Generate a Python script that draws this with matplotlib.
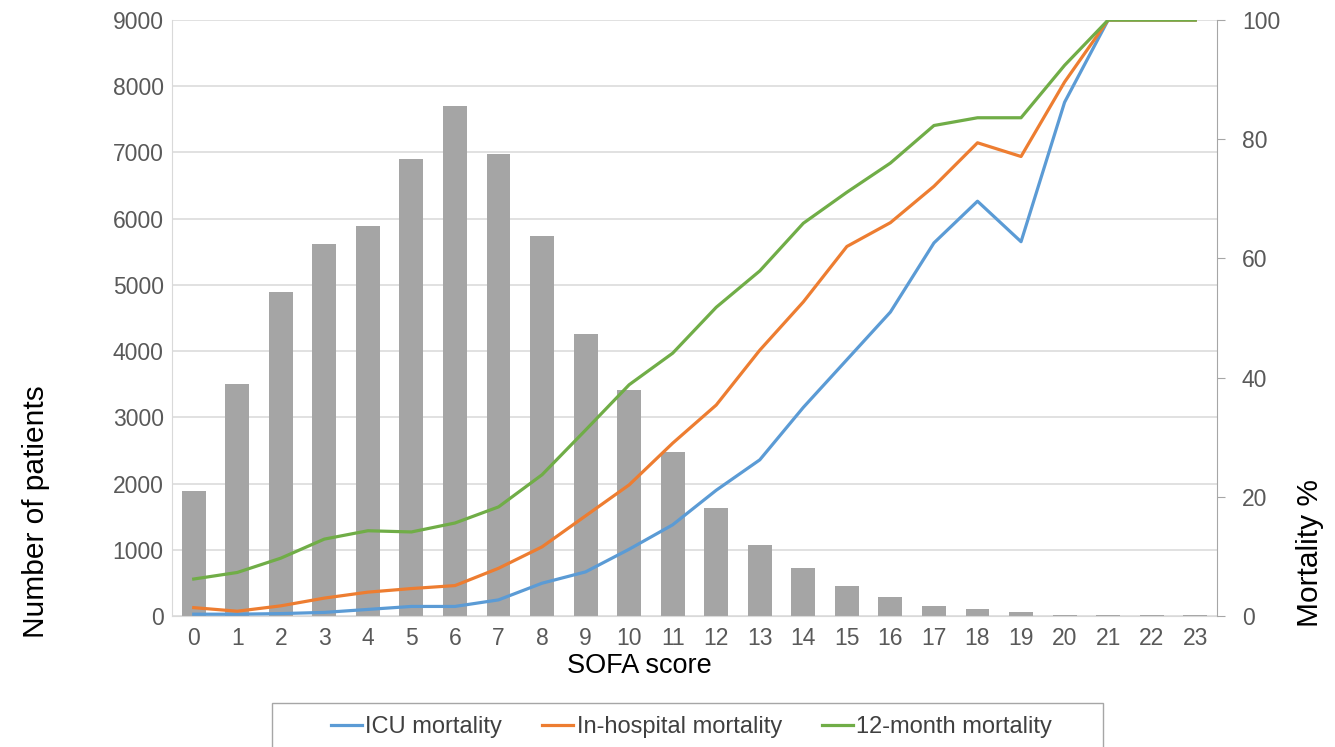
import matplotlib.pyplot as plt
from matplotlib.patches import Rectangle
import numpy as np

plt.rcParams['font.family'] = ['Liberation Sans', 'DejaVu Sans']

# SOFA score categories
sofa = list(range(24))

# number of patients per SOFA score (left axis)
patients = [1890, 3500, 4900, 5620, 5890, 6900, 7700, 6970, 5740, 4260,
            3420, 2470, 1630, 1070, 720, 460, 290, 150, 100, 65,
            15, 12, 12, 12]

# mortality % (right axis)
icu_mort = [0.3, 0.3, 0.4, 0.6, 1.1, 1.6, 1.6, 2.7, 5.5, 7.4,
            11.2, 15.3, 21.1, 26.2, 35.0, 43.0, 51.0, 62.6, 69.6, 62.8,
            86.2, 100, 100, 100]
hosp_mort = [1.4, 0.8, 1.7, 3.0, 4.0, 4.6, 5.1, 8.0, 11.6, 16.8,
             22.0, 29.0, 35.4, 44.6, 52.7, 62.0, 66.0, 72.1, 79.4, 77.1,
             89.6, 100, 100, 100]
month12_mort = [6.2, 7.3, 9.7, 12.9, 14.3, 14.1, 15.6, 18.3, 23.7, 31.2,
                38.8, 44.1, 51.8, 57.9, 65.9, 71.1, 76.0, 82.3, 83.6, 83.6,
                92.4, 100, 100, 100]

fig = plt.figure(figsize=(13.35, 7.47), dpi=100)
ax = fig.add_axes([0.1288, 0.1754, 0.7828, 0.7978])

ax.bar(sofa, patients, width=0.55, color='#A5A5A5', zorder=2)
ax.set_xlim(-0.5, 23.5)
ax.set_ylim(0, 9000)
ax.set_yticks(np.arange(0, 9001, 1000))
ax.set_xticks(sofa)
ax.set_axisbelow(True)
ax.grid(axis='y', color='#D9D9D9', linewidth=1.1)
ax.tick_params(axis='both', length=0, labelsize=16.5, labelcolor='#595959')
ax.tick_params(axis='x', pad=8)
ax.tick_params(axis='y', pad=6)
for s in ['top', 'right']:
    ax.spines[s].set_visible(False)
ax.spines['left'].set_color('#D9D9D9')
ax.spines['bottom'].set_color('#D9D9D9')

ax2 = ax.twinx()
ax2.plot(sofa, icu_mort, color='#5B9BD5', lw=2.3, label='ICU mortality')
ax2.plot(sofa, hosp_mort, color='#ED7D31', lw=2.3, label='In-hospital mortality')
ax2.plot(sofa, month12_mort, color='#70AD47', lw=2.3, label='12-month mortality')
ax2.set_ylim(0, 100)
ax2.set_yticks(np.arange(0, 101, 20))
ax2.tick_params(axis='y', length=6, color='#A6A6A6', labelsize=16.5,
                labelcolor='#595959', pad=12)
for s in ['top', 'left', 'bottom']:
    ax2.spines[s].set_visible(False)
ax2.spines['right'].set_color('#A6A6A6')

fig.text(0.027, 0.315, 'Number of patients', rotation=90, fontsize=21.5,
         ha='center', va='center', color='black')
fig.text(0.981, 0.26, 'Mortality %', rotation=90, fontsize=21.5,
         ha='center', va='center', color='black')
fig.text(0.479, 0.109, 'SOFA score', fontsize=19.5, ha='center', va='center')

# legend box (extends below the figure edge, as in the original)
fig.patches.append(Rectangle((272 / 1335, -0.05), (1103 - 272) / 1335, 0.05 + 44 / 747,
                             transform=fig.transFigure, facecolor='white',
                             edgecolor='#A6A6A6', linewidth=1.0))
leg = fig.legend(loc='center', bbox_to_anchor=(0.518, 1 - 727 / 747), ncol=3,
                 fontsize=17, frameon=False, handlelength=1.3,
                 handletextpad=0.15, columnspacing=1.7, borderaxespad=0)
for t in leg.get_texts():
    t.set_color('#404040')

fig.savefig('out.png', dpi=100)
